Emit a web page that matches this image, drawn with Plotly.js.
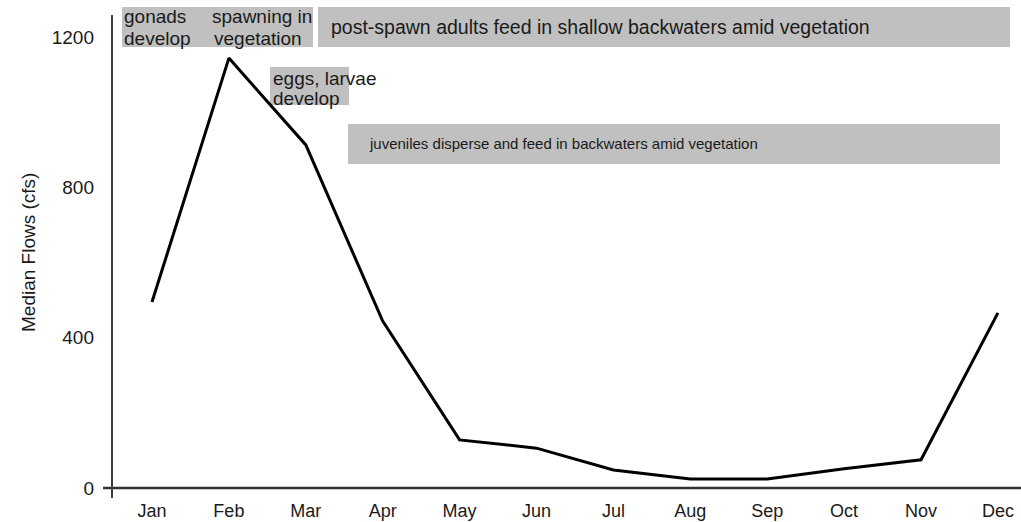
<!DOCTYPE html>
<html>
<head>
<meta charset="utf-8">
<script src="https://cdn.plot.ly/plotly-3.0.1.min.js"></script>
<style>html,body{margin:0;padding:0;background:#fff;}#chart{width:1021px;height:522px;}</style>
</head>
<body>
<div id="chart"></div>
<script>
// ---- data ----
var months = ['Jan','Feb','Mar','Apr','May','Jun','Jul','Aug','Sep','Oct','Nov','Dec'];
var medianFlows = [495, 1144, 913, 444, 128, 106, 48, 24, 24, 51, 75, 466];
var yTicks = [0, 400, 800, 1200];
var yTitle = 'Median Flows (cfs)';
var phaseGonads = ['gonads', 'develop'];
var phaseSpawning = ['spawning in', 'vegetation'];
var phaseEggs = ['eggs, larvae', 'develop'];
var phasePostSpawn = ['post-spawn adults feed in shallow backwaters amid vegetation'];
var phaseJuveniles = ['juveniles disperse and feed in backwaters amid vegetation'];

// ---- layout helpers (pixel -> paper) ----
var L = 112, R = 0, T = 0, B = 24, W = 1021, H = 522;
var PW = W - L - R, PH = H - T - B;
function px(x){ return (x - L) / PW; }
function py(y){ return (PH + T - y) / PH; }

var boxFill = 'rgb(192,192,192)';
var textColor = '#1a1a1a';
var fontFam = 'Liberation Sans, Arial, sans-serif';

function box(x0, y0, x1, y1){
  return {type:'rect', xref:'paper', yref:'paper', x0:px(x0), x1:px(x1), y0:py(y1), y1:py(y0),
          fillcolor:boxFill, line:{width:0}, layer:'below'};
}
function label(text, x, y, size){
  return {text:text, xref:'paper', yref:'paper', x:px(x), y:py(y), xanchor:'left', yanchor:'middle',
          showarrow:false, font:{family:fontFam, size:size, color:textColor}};
}

var shapes = [
  box(122, 7, 210, 47),
  box(210, 7, 313, 47),
  box(318, 7, 1010, 47),
  box(270, 67, 349, 105),
  box(348, 124, 1000, 164),
  // y axis line
  {type:'line', xref:'paper', yref:'paper', x0:px(112), x1:px(112), y0:py(498), y1:py(15), line:{color:'#000', width:1.5}},
  // x axis line
  {type:'line', xref:'paper', yref:'paper', x0:px(103), x1:px(1021), y0:py(488), y1:py(488), line:{color:'#333', width:2.5}}
];

var annotations = [
  label(phaseGonads[0], 122, 17, 19),
  label(phaseGonads[1], 122, 39, 19),
  label(phaseSpawning[0], 210, 17, 19),
  label(phaseSpawning[1], 212, 39, 19),
  label(phasePostSpawn[0], 329, 27, 19.5),
  label(phaseEggs[0], 271, 79, 19),
  label(phaseEggs[1], 271, 98, 19),
  label(phaseJuveniles[0], 367, 143, 15),
  {text:yTitle, xref:'paper', yref:'paper', x:px(28), y:py(253), xanchor:'center', yanchor:'middle',
   textangle:-90, showarrow:false, font:{family:fontFam, size:19, color:textColor}}
];

var trace = {
  x: months, y: medianFlows, type:'scatter', mode:'lines',
  line:{color:'#000', width:3}, hoverinfo:'skip'
};

var layout = {
  width:W, height:H,
  margin:{l:L, r:R, t:T, b:B, pad:0},
  paper_bgcolor:'#fff', plot_bgcolor:'#fff',
  showlegend:false,
  font:{family:fontFam, color:textColor},
  xaxis:{type:'category', range:[-0.52, 11.30], showgrid:false, zeroline:false, showline:false,
         ticks:'', tickfont:{size:18, color:textColor}, fixedrange:true},
  yaxis:{range:[-26.6, 1298.6], tickvals:yTicks, ticktext:yTicks.map(String), showgrid:false, zeroline:false,
         showline:false, ticks:'', ticklabelstandoff:17, tickfont:{size:19, color:textColor}, fixedrange:true},
  shapes:shapes,
  annotations:annotations
};

Plotly.newPlot('chart', [trace], layout, {staticPlot:true, displayModeBar:false});
</script>
</body>
</html>
